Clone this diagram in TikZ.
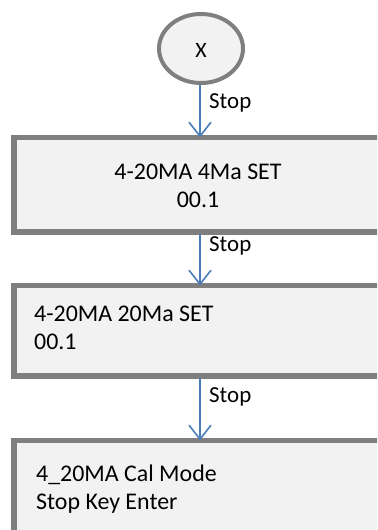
\documentclass[tikz,border=0pt]{standalone}
\usepackage{fontspec}
\setmainfont{Carlito}
\usetikzlibrary{shapes.geometric,arrows.meta}
\definecolor{boxgray}{HTML}{7F7F7F}
\definecolor{boxfill}{HTML}{F2F2F2}
\definecolor{arrowblue}{HTML}{4A7EBB}
\begin{document}
\begin{tikzpicture}[x=1bp,y=-1bp,
  stepbox/.style={fill=boxfill,rectangle,inner sep=0pt,anchor=north west,minimum width=366bp},
  border/.style={draw=boxgray,line width=5.5bp},
  bodytext/.style={inner sep=0pt,align=left,font=\fontsize{24}{28}\selectfont},
  lbl/.style={inner sep=0pt,anchor=west,font=\fontsize{23}{26}\selectfont},
  flow/.style={draw=arrowblue,line width=1.6bp,-{Straight Barb[length=14bp,width=22bp,line width=1.6bp]}}]
\useasboundingbox (0,0) rectangle (377,530);
\clip (0,0) rectangle (377,530);
% start ellipse
\node[ellipse,draw=boxgray,fill=boxfill,line width=4bp,minimum width=84bp,minimum height=69bp,inner sep=0pt] (start) at (201,48.5) {};
\node[inner sep=0pt,font=\fontsize{22}{26}\selectfont] (xt) at (201,50) {X};
% boxes (right side runs off the picture)
\node[stepbox,minimum height=94bp] (b1) at (14,137.5) {};
\draw[border] (b1.north east) -- (b1.north west) -- (b1.south west) -- (b1.south east);
\node[bodytext,align=center] (t1) at (198,186) {4-20MA 4Ma SET\\00.1};
\node[stepbox,minimum height=90bp] (b2) at (14,285.5) {};
\draw[border] (b2.north east) -- (b2.north west) -- (b2.south west) -- (b2.south east);
\node[bodytext,anchor=west] (t2) at (34,328) {4-20MA 20Ma SET\\00.1};
\node[stepbox,minimum height=95bp] (b3) at (14,440.5) {};
\draw[border] (b3.north east) -- (b3.north west) -- (b3.south west);
\node[bodytext,anchor=west] (t3) at (36,489) {4\_20MA Cal Mode\\Stop Key Enter};
% arrows
\coordinate (a1s) at ([xshift=-1bp]start.south);
\draw[flow] (a1s) -- (a1s |- b1.north);
\coordinate (a2s) at (200,234);
\draw[flow] (a2s) -- (a2s |- b2.north);
\coordinate (a3s) at (200,378);
\draw[flow] (a3s) -- (a3s |- b3.north);
% labels
\node[lbl] (s1) at (209,103) {Stop};
\node[lbl] (s2) at (209,246) {Stop};
\node[lbl] (s3) at (209,397) {Stop};
\end{tikzpicture}
\end{document}
